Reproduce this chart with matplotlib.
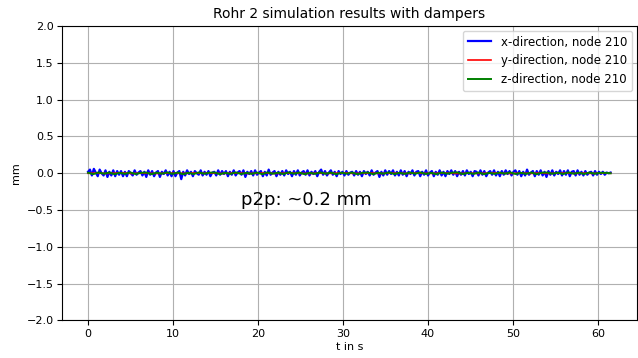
import matplotlib
matplotlib.use("Agg")
import matplotlib.pyplot as plt
import numpy as np

T_END = 61.5
X_DIR = [0.02, 0.05, -0.03, 0.06, 0.01, -0.04, 0.05, 0.00, -0.03, 0.04,
         -0.05, 0.02, -0.03, 0.04, -0.04, 0.03, -0.02, 0.03, -0.04, 0.02,
         -0.04, 0.03, 0.00, -0.03, 0.04, -0.02, 0.01, 0.03, -0.03, 0.02,
         -0.05, 0.04, -0.02, 0.03, -0.04, 0.01, 0.03, -0.05, 0.02, -0.01,
         0.04, -0.03, 0.02, -0.04, 0.03, -0.04, 0.01, 0.03, -0.08, 0.02,
         -0.03, 0.04, -0.01, 0.02, -0.04, 0.03, 0.00, -0.02, 0.04, -0.03,
         0.02, -0.02, 0.03, -0.04, 0.01, 0.02, -0.03, 0.04, -0.02, 0.03,
         -0.01, 0.03, -0.04, 0.02, -0.02, 0.04, -0.03, 0.01, 0.03, -0.02,
         0.04, -0.05, 0.02, -0.01, 0.03, -0.03, 0.04, -0.02, 0.01, 0.03,
         -0.04, 0.02, -0.03, 0.05, -0.02, 0.01, 0.03, -0.04, 0.02, -0.02,
         0.03, -0.03, 0.04, -0.01, 0.02, -0.04, 0.03, -0.02, 0.04, -0.03,
         0.01, 0.03, -0.02, 0.04, -0.03, 0.02, -0.01, 0.03, -0.04, 0.02,
         0.05, -0.02, 0.03, -0.03, 0.01, 0.04, -0.02, 0.02, -0.04, 0.03,
         -0.01, 0.02, -0.03, 0.03, -0.02, 0.01, 0.02, -0.03, 0.03, -0.02,
         0.02, -0.04, 0.03, -0.01, 0.02, -0.03, 0.04, -0.02, 0.01, 0.03,
         -0.05, 0.02, -0.03, 0.04, -0.02, 0.03, -0.01, 0.04, -0.03, 0.02,
         -0.03, 0.04, -0.02, 0.03, -0.04, 0.02, -0.01, 0.04, -0.03, 0.02,
         0.03, -0.04, 0.02, -0.02, 0.04, -0.03, 0.01, 0.03, -0.04, 0.02,
         -0.02, 0.04, -0.03, 0.02, -0.04, 0.03, -0.01, 0.04, -0.02, 0.03,
         -0.04, 0.02, -0.02, 0.03, -0.03, 0.04, -0.01, 0.02, -0.04, 0.03,
         0.02, -0.03, 0.04, -0.02, 0.03, -0.04, 0.01, 0.03, -0.02, 0.04,
         -0.03, 0.02, -0.04, 0.03, -0.02, 0.04, -0.01, 0.03, -0.03, 0.02,
         0.04, -0.02, 0.03, -0.04, 0.02, -0.03, 0.05, -0.02, 0.01, 0.03,
         -0.04, 0.03, -0.02, 0.04, -0.03, 0.02, -0.05, 0.03, -0.02, 0.04,
         -0.03, 0.02, -0.01, 0.04, -0.03, 0.03, -0.02, 0.04, -0.04, 0.02,
         0.03, -0.03, 0.04, -0.02, 0.02, -0.03, 0.03, -0.02, 0.01, 0.02,
         -0.03, 0.03, -0.02, 0.02, -0.01, 0.02, -0.02, 0.01, 0.00, 0.01]
Y_DIR = [0.000, 0.003, -0.002, 0.002, 0.004, -0.003, 0.002, -0.001, -0.003, 0.003,
         0.000, -0.002, 0.004, -0.001, 0.003, -0.003, 0.001, 0.003, -0.002, 0.000,
         0.004, -0.003, 0.001, 0.003, -0.001, -0.003, 0.002, -0.002, 0.001, 0.004,
         -0.002, 0.000, 0.003, -0.003, 0.002, 0.001, -0.002, 0.003, -0.001, -0.002,
         0.003, 0.000, -0.003, 0.002, -0.002, 0.001, 0.004, -0.001, -0.002, 0.002,
         -0.002, 0.003, -0.002, 0.001, 0.003, -0.002, 0.002, -0.002, 0.002, 0.000]
Z_DIR = [0.008, -0.012, 0.012, -0.006, 0.010, -0.012, 0.006, -0.008, 0.012, -0.010,
         0.006, 0.010, -0.012, 0.008, -0.006, 0.012, -0.008, 0.010, -0.012, 0.006,
         -0.010, 0.012, -0.006, 0.008, 0.010, -0.012, 0.006, -0.008, 0.012, -0.010,
         0.006, -0.008, 0.010, -0.012, 0.012, -0.006, 0.008, -0.010, 0.012, -0.006,
         0.010, -0.012, 0.006, -0.008, 0.012, -0.006, 0.010, -0.012, 0.008, -0.006,
         0.010, -0.012, 0.006, 0.010, -0.012, 0.008, -0.006, 0.012, -0.010, 0.006,
         -0.008, 0.010, -0.006, 0.012, -0.010, 0.006, -0.012, 0.010, -0.006, 0.008,
         0.012, -0.010, 0.006, -0.008, 0.010, -0.012, 0.006, -0.008, 0.010, -0.006,
         0.012, -0.010, 0.006, -0.008, 0.010, -0.012, 0.008, 0.010, -0.006, 0.008,
         -0.010, 0.012, -0.006, 0.008, -0.010, 0.010, -0.006, 0.006, 0.006, 0.000]

fig, ax = plt.subplots(figsize=(6.38, 3.58), dpi=100)
fig.subplots_adjust(left=0.097, right=0.998, top=0.927, bottom=0.105)

for vals, c, lab, lw in [(X_DIR, "blue", "x-direction, node 210", 1.6),
                         (Y_DIR, "red", "y-direction, node 210", 1.2),
                         (Z_DIR, "green", "z-direction, node 210", 1.4)]:
    t = np.linspace(0, T_END, len(vals))
    ax.plot(t, vals, color=c, linewidth=lw, label=lab)

ax.set_ylim(-2, 2)
ax.set_yticks(np.arange(-2, 2.01, 0.5))
ax.set_title("Rohr 2 simulation results with dampers", fontsize=10)
ax.set_xlabel("t in s", fontsize=8, labelpad=2)
ax.set_ylabel("mm", fontsize=8)
ax.tick_params(labelsize=8, pad=2.5)
ax.grid(True, color="#b0b0b0", linewidth=0.8)
ax.text(18, -0.36, "p2p: ~0.2 mm", fontsize=13, va="center")
ax.legend(loc="upper right", fontsize=8.5, borderaxespad=0.4)

fig.savefig("out.png")
